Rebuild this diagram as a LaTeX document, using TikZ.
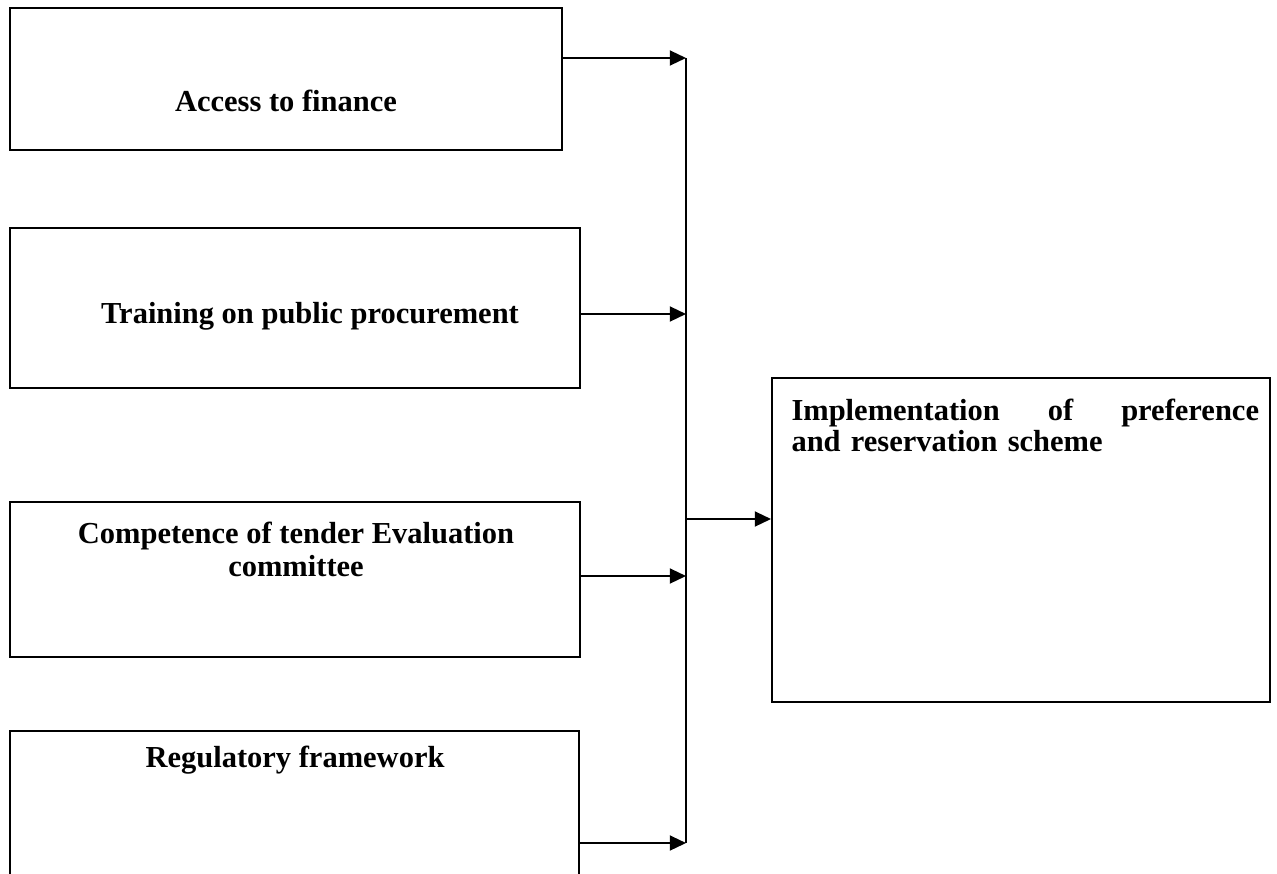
\documentclass[tikz,border=0pt]{standalone}
\usepackage{fontspec}
\setmainfont{Liberation Serif}
\usetikzlibrary{positioning,arrows.meta}

\begin{document}
\begin{tikzpicture}[
    x=0.4pt, y=-0.4pt,
    box/.style = {rectangle, draw=black, line width=0.8pt, inner sep=0pt},
    lbl/.style = {inner sep=0pt, font=\bfseries\fontsize{12.2}{13}\selectfont, align=center},
    link/.style = {line width=0.8pt},
    arr/.style = {link, -{Triangle[length=6.5pt, width=6pt]}},
]
    \useasboundingbox (0,0) rectangle (1277,873);

    % factors
    \node[box, minimum width=220.8pt, minimum height=56.8pt] (fin) at (286,79) {};
    \node[box, minimum width=228pt, minimum height=64pt] (train) at (295,308) {};
    \node[box, minimum width=228pt, minimum height=62pt] (comp) at (295,579.5) {};
    \node[box, minimum width=227.6pt, minimum height=67.6pt] (reg) at (294.5,815.5) {};

    % outcome
    \node[box, minimum width=199.2pt, minimum height=129.6pt] (impl) at (1021,540) {};

    % labels
    \node[lbl, anchor=base] (finT) at (286,111) {Access to finance};
    \node[lbl, anchor=base] (trainT) at (310,323) {Training on public procurement};
    \node[lbl, anchor=north] (compT) at (296,522) {Competence of tender Evaluation\\committee};
    \node[lbl, anchor=base] (regT) at (295,767) {Regulatory framework};
    \node[lbl, anchor=north west, align=left, text width=187pt,
          font=\bfseries\fontsize{12.2}{12.4}\selectfont] (implT) at (791,399)
          {\hbox to 187pt{Implementation\hfill of\hfill preference}\\and reservation scheme};

    % bus
    \coordinate (j1) at (686,58);
    \coordinate (j2) at (686,314);
    \coordinate (j3) at (686,576);
    \coordinate (j4) at (686,843);
    \coordinate (jm) at (686,519);

    % flows
    \draw[arr] (fin.east |- j1) -- (j1);
    \draw[arr] (train.east |- j2) -- (j2);
    \draw[arr] (comp.east |- j3) -- (j3);
    \draw[arr] (reg.east |- j4) -- (j4);
    \draw[link] (j1) -- (j4);
    \draw[arr] (jm) -- (impl.west |- jm);

\end{tikzpicture}
\end{document}
